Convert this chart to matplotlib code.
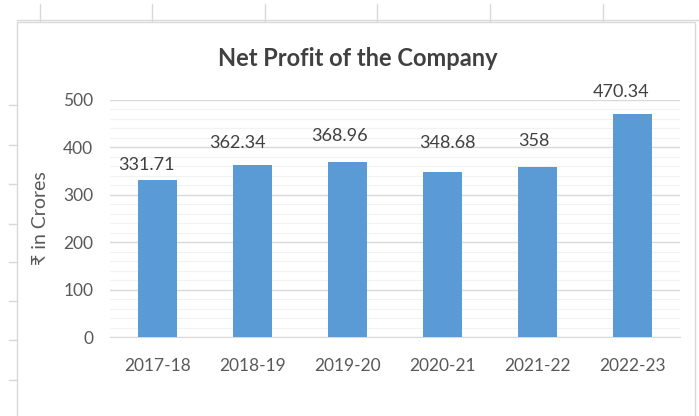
import matplotlib.pyplot as plt
from matplotlib.lines import Line2D
from matplotlib.patches import Rectangle
from matplotlib.ticker import MultipleLocator

# data
years = ['2017-18', '2018-19', '2019-20', '2020-21', '2021-22', '2022-23']
profit = [331.71, 362.34, 368.96, 348.68, 358, 470.34]
labels = ['331.71', '362.34', '368.96', '348.68', '358', '470.34']

# hand-placed data labels in the original (pixel nudges from bar top)
label_dx = [-11, -15, -8, 5, -4, -11]
label_dy = [7, 14, 18, 21, 18, 14]

plt.rcParams['font.family'] = ['Lato', 'DejaVu Sans']

fig = plt.figure(figsize=(6.99, 4.16), dpi=100)
W, H = 699, 416

# spreadsheet grid behind the chart
for x in [40, 152, 265, 377, 490, 603]:
    fig.add_artist(Line2D([x / W, x / W], [1 - 4 / H, 1 - 21 / H], color='#d9d9d9', lw=1))
fig.add_artist(Line2D([17 / W, 1], [1 - 20 / H, 1 - 20 / H], color='#d9d9d9', lw=1))
for y in [105, 145, 184, 224, 262, 301, 340, 380]:
    fig.add_artist(Line2D([9 / W, 17 / W], [1 - y / H, 1 - y / H], color='#d9d9d9', lw=1))

# chart box
fig.add_artist(Rectangle((17 / W, -0.01), (695 - 17) / W, 1 - 22 / H + 0.01,
                         fill=False, edgecolor='#d9d9d9', lw=1))

ax = fig.add_axes([110 / W, 79 / H, 570 / W, 237 / H])
ax.bar(years, profit, width=0.41, color='#5b9bd5', zorder=3)

ax.set_ylim(0, 500)
ax.set_xlim(-0.5, 5.5)
ax.yaxis.set_major_locator(MultipleLocator(100))
ax.yaxis.set_minor_locator(MultipleLocator(20))
ax.grid(axis='y', which='major', color='#d9d9d9', lw=1, zorder=0)
ax.grid(axis='y', which='minor', color='#f2f2f2', lw=0.8, zorder=0)

for s in ax.spines.values():
    s.set_visible(False)
ax.spines['bottom'].set_visible(True)
ax.spines['bottom'].set_color('#d9d9d9')

ax.tick_params(axis='both', which='both', length=0, labelsize=12.5, labelcolor='#595959')
ax.tick_params(axis='x', pad=15)
ax.tick_params(axis='y', pad=12)

for i, v in enumerate(profit):
    ax.annotate(labels[i], (i, v), xytext=(label_dx[i] * 0.72, label_dy[i] * 0.72),
                textcoords='offset points', ha='center', va='bottom',
                fontsize=13, color='#404040', annotation_clip=False)

ax.set_ylabel('₹ in Crores', fontsize=14, color='#595959', labelpad=10)
fig.text(358 / W, 1 - 58 / H, 'Net Profit of the Company',
         ha='center', va='center', fontsize=17, fontweight='bold', color='#404040')

fig.savefig('out.png', dpi=100)
